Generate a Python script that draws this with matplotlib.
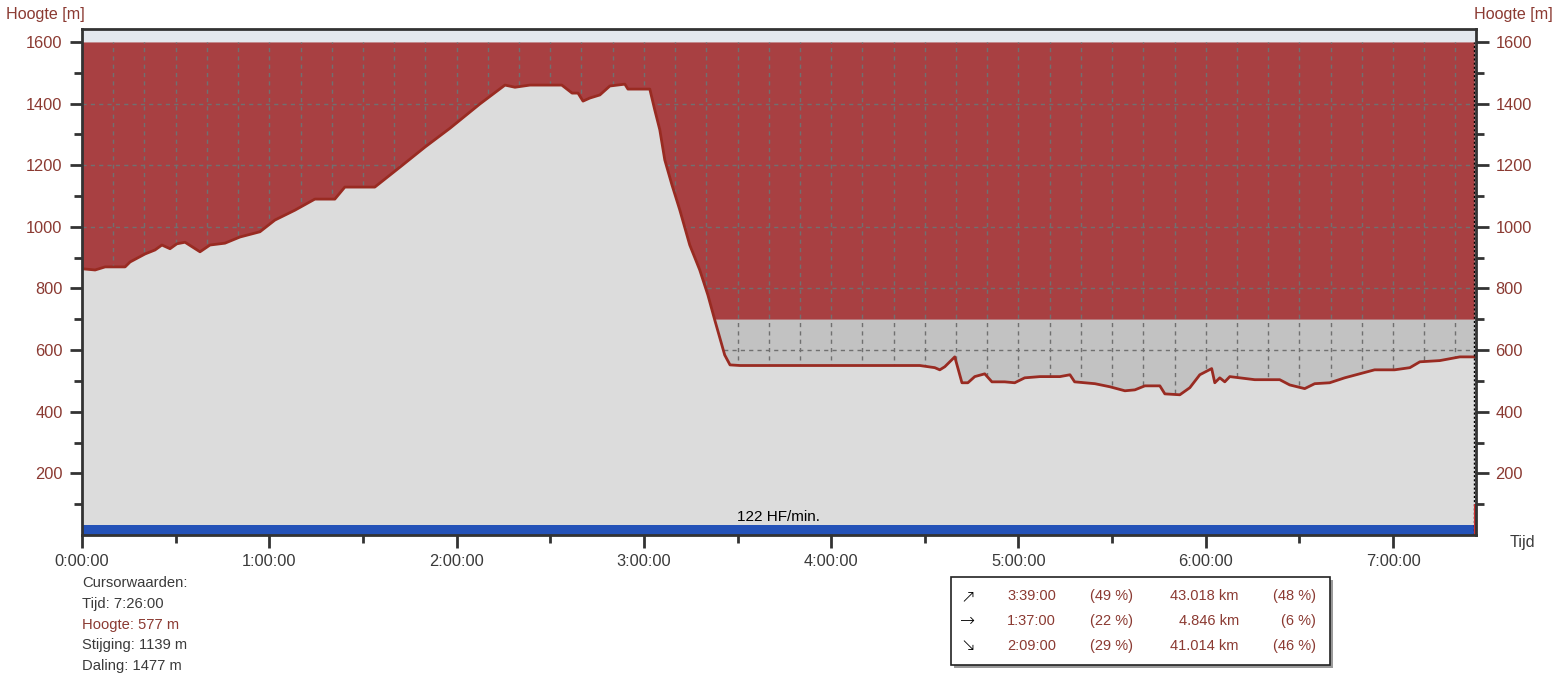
import matplotlib.pyplot as plt
from matplotlib.ticker import MultipleLocator, FuncFormatter, FixedLocator
from matplotlib.patches import Rectangle

# tijd in minuten en hoogte in meter
tijd_min = [0, 4.2, 7.4, 13.8, 15.4, 20.2, 23.4, 25.6, 28.2, 30.4, 33, 37.8, 41, 45.8,
            50.6, 57, 61.8, 68.2, 74.6, 81, 84.2, 93.8, 101.9, 109.9, 117.9, 127.5,
            135.5, 138.7, 143.5, 153.7, 157, 158.9, 160.5, 162.7, 165.9, 169.1, 173.9,
            174.9, 181.9, 183.5, 185.1, 186.7, 189, 191.5, 194.7, 197.9, 200.5, 202.7,
            205.9, 207.6, 210.8, 230, 268.4, 273.2, 274.8, 276.4, 279.6, 281.9, 283.8,
            286, 289.2, 291.5, 295.6, 298.8, 302, 306.9, 313.3, 316.5, 318, 324.5,
            329.3, 334.1, 337.3, 340.5, 345.3, 346.9, 351.7, 354.9, 358.1, 361.9,
            362.9, 364.5, 366.1, 367.7, 370.9, 375.7, 383.7, 386.9, 391.7, 394.9,
            399.7, 404.5, 409.3, 414.1, 420.5, 425.4, 428.6, 435, 441.4, 446]
hoogte = [864, 860, 870, 870, 886, 912, 925, 941, 929, 945, 950, 919, 941, 947,
          967, 984, 1022, 1054, 1090, 1090, 1129, 1129, 1194, 1259, 1320, 1399,
          1460, 1453, 1460, 1460, 1434, 1434, 1408, 1418, 1428, 1457, 1463,
          1447, 1447, 1379, 1315, 1217, 1136, 1055, 941, 860, 779, 698,
          584, 552, 550, 550, 550, 543, 536, 546, 578, 494, 494,
          514, 523, 497, 497, 494, 510, 514, 514, 520, 497, 491,
          481, 468, 471, 484, 484, 458, 455, 478, 520, 540,
          494, 510, 497, 514, 510, 504, 504, 487, 475, 491,
          494, 510, 523, 536, 536, 543, 562, 566, 578, 578]

tijd = [m / 60 for m in tijd_min]
x_max = 7.443
cursor = 7 + 26 / 60

rood = '#a84042'
lijn = '#992b22'
tekst_rood = '#8b3a32'
tekst_grijs = '#3a3a3a'

fig = plt.figure(figsize=(15.59, 6.82), dpi=100)
ax = fig.add_axes([82 / 1559, 1 - 535 / 682, (1476 - 82) / 1559, (535 - 29) / 682])
ax.set_facecolor('#e4e8ee')
ax.set_xlim(0, x_max)
ax.set_ylim(0, 1642)

# rood boven het profiel, maar niet lager dan 700 m
boven = [max(h, 700) for h in hoogte]
ax.fill_between(tijd, boven, 1600, color=rood, lw=0, zorder=1)
ax.fill_between(tijd, hoogte, 700, where=[h < 700 for h in hoogte],
                interpolate=True, color='#c2c2c2', lw=0, zorder=1)

# raster, alleen tot 1600
rx = [i / 6 for i in range(1, 45)]
ax.vlines(rx, 0, 1600, colors='#707070', linestyles=(0, (3, 3)), lw=1, zorder=2)
ax.hlines(range(200, 1600, 200), 0, x_max, colors='#707070',
          linestyles=(0, (3, 3)), lw=1, zorder=2)

# profiel
ax.fill_between(tijd, 0, hoogte, color='#dcdcdc', lw=0, zorder=3)
ax.plot(tijd, hoogte, color=lijn, lw=2, zorder=5)

# hartslag balk
ax.fill_between([0, x_max], 0, 33, color='#2452b8', lw=0, zorder=4)
ax.text(3.716, 36, '122 HF/min.', ha='center', va='bottom', fontsize=11,
        family='Liberation Sans', color='black', zorder=6)

# cursor
ax.vlines([cursor], 0, 1600, colors='black', linestyles=(0, (1.5, 1.5)), lw=1, zorder=6)
ax.vlines([x_max - 0.004], 0, 100, colors='#d03030', lw=1.5, zorder=6)

# assen
for s in ax.spines.values():
    s.set_color('#333333')
    s.set_linewidth(2)
    s.set_zorder(7)

ax.xaxis.set_major_locator(MultipleLocator(1))
ax.xaxis.set_minor_locator(MultipleLocator(0.5))
ax.xaxis.set_major_formatter(FuncFormatter(lambda v, p: '%d:00:00' % int(round(v))))
ax.yaxis.set_major_locator(FixedLocator(range(200, 1601, 200)))
ax.yaxis.set_minor_locator(FixedLocator(range(100, 1601, 100)))

ax.tick_params(axis='both', which='major', length=9, width=2, color='#333333',
               labelsize=11.8, direction='out')
ax.tick_params(axis='both', which='minor', length=6, width=2, color='#333333',
               direction='out')
ax.tick_params(axis='x', labelcolor=tekst_grijs, pad=5)
ax.tick_params(axis='y', labelcolor=tekst_rood, pad=5, left=True, right=True,
               labelleft=True, labelright=True)
ax.tick_params(axis='y', which='minor', left=True, right=True)
for lab in ax.get_xticklabels() + ax.get_yticklabels():
    lab.set_family('Liberation Sans')


def px(x, y):
    return x / 1559, 1 - y / 682


fnt = dict(family='Liberation Sans', fontsize=10.5)
fig.text(*px(6, 14), 'Hoogte [m]', color=tekst_rood, va='center', ha='left',
         family='Liberation Sans', fontsize=11.6)
fig.text(*px(1474, 14), 'Hoogte [m]', color=tekst_rood, va='center', ha='left',
         family='Liberation Sans', fontsize=11.6)
fig.text(*px(1510, 542), 'Tijd', color=tekst_grijs, va='center', ha='left',
         family='Liberation Sans', fontsize=11.6)

# cursorwaarden
regels = ['Cursorwaarden:', 'Tijd: 7:26:00', 'Hoogte: 577 m', 'Stijging: 1139 m', 'Daling: 1477 m']
kleuren = [tekst_grijs, tekst_grijs, tekst_rood, tekst_grijs, tekst_grijs]
for i, (r, k) in enumerate(zip(regels, kleuren)):
    fig.text(*px(82, 583 + i * 20.8), r, color=k, va='center', ha='left', fontsize=10.6,
             family='Liberation Sans')

# tabel met stijgen / vlak / dalen
pijlen = ['\u2197', '\u2192', '\u2198']
tijden = ['3:39:00', '1:37:00', '2:09:00']
tijd_pct = ['(49 %)', '(22 %)', '(29 %)']
afstand = ['43.018 km', '4.846 km', '41.014 km']
afst_pct = ['(48 %)', '(6 %)', '(46 %)']

x0, y0 = px(951, 665)
w, h = (1330 - 951) / 1559, (665 - 577) / 682
fig.add_artist(Rectangle((x0 + 3 / 1559, y0 - 3 / 682), w, h, transform=fig.transFigure,
                         facecolor='#9a9a9a', edgecolor='none', zorder=1))
fig.add_artist(Rectangle((x0, y0), w, h, transform=fig.transFigure,
                         facecolor='white', edgecolor='#222222', lw=1.2, zorder=2))
for i in range(3):
    y = 596 + i * 25
    fig.text(*px(968, y), pijlen[i], color='black', ha='center', va='center',
             fontsize=13, family='DejaVu Sans', fontweight='light', zorder=3)
    fig.text(*px(1056, y), tijden[i], color=tekst_rood, ha='right', va='center', zorder=3, **fnt)
    fig.text(*px(1133, y), tijd_pct[i], color=tekst_rood, ha='right', va='center', zorder=3, **fnt)
    fig.text(*px(1239, y), afstand[i], color=tekst_rood, ha='right', va='center', zorder=3, **fnt)
    fig.text(*px(1316, y), afst_pct[i], color=tekst_rood, ha='right', va='center', zorder=3, **fnt)

fig.savefig('out.png', dpi=100)
